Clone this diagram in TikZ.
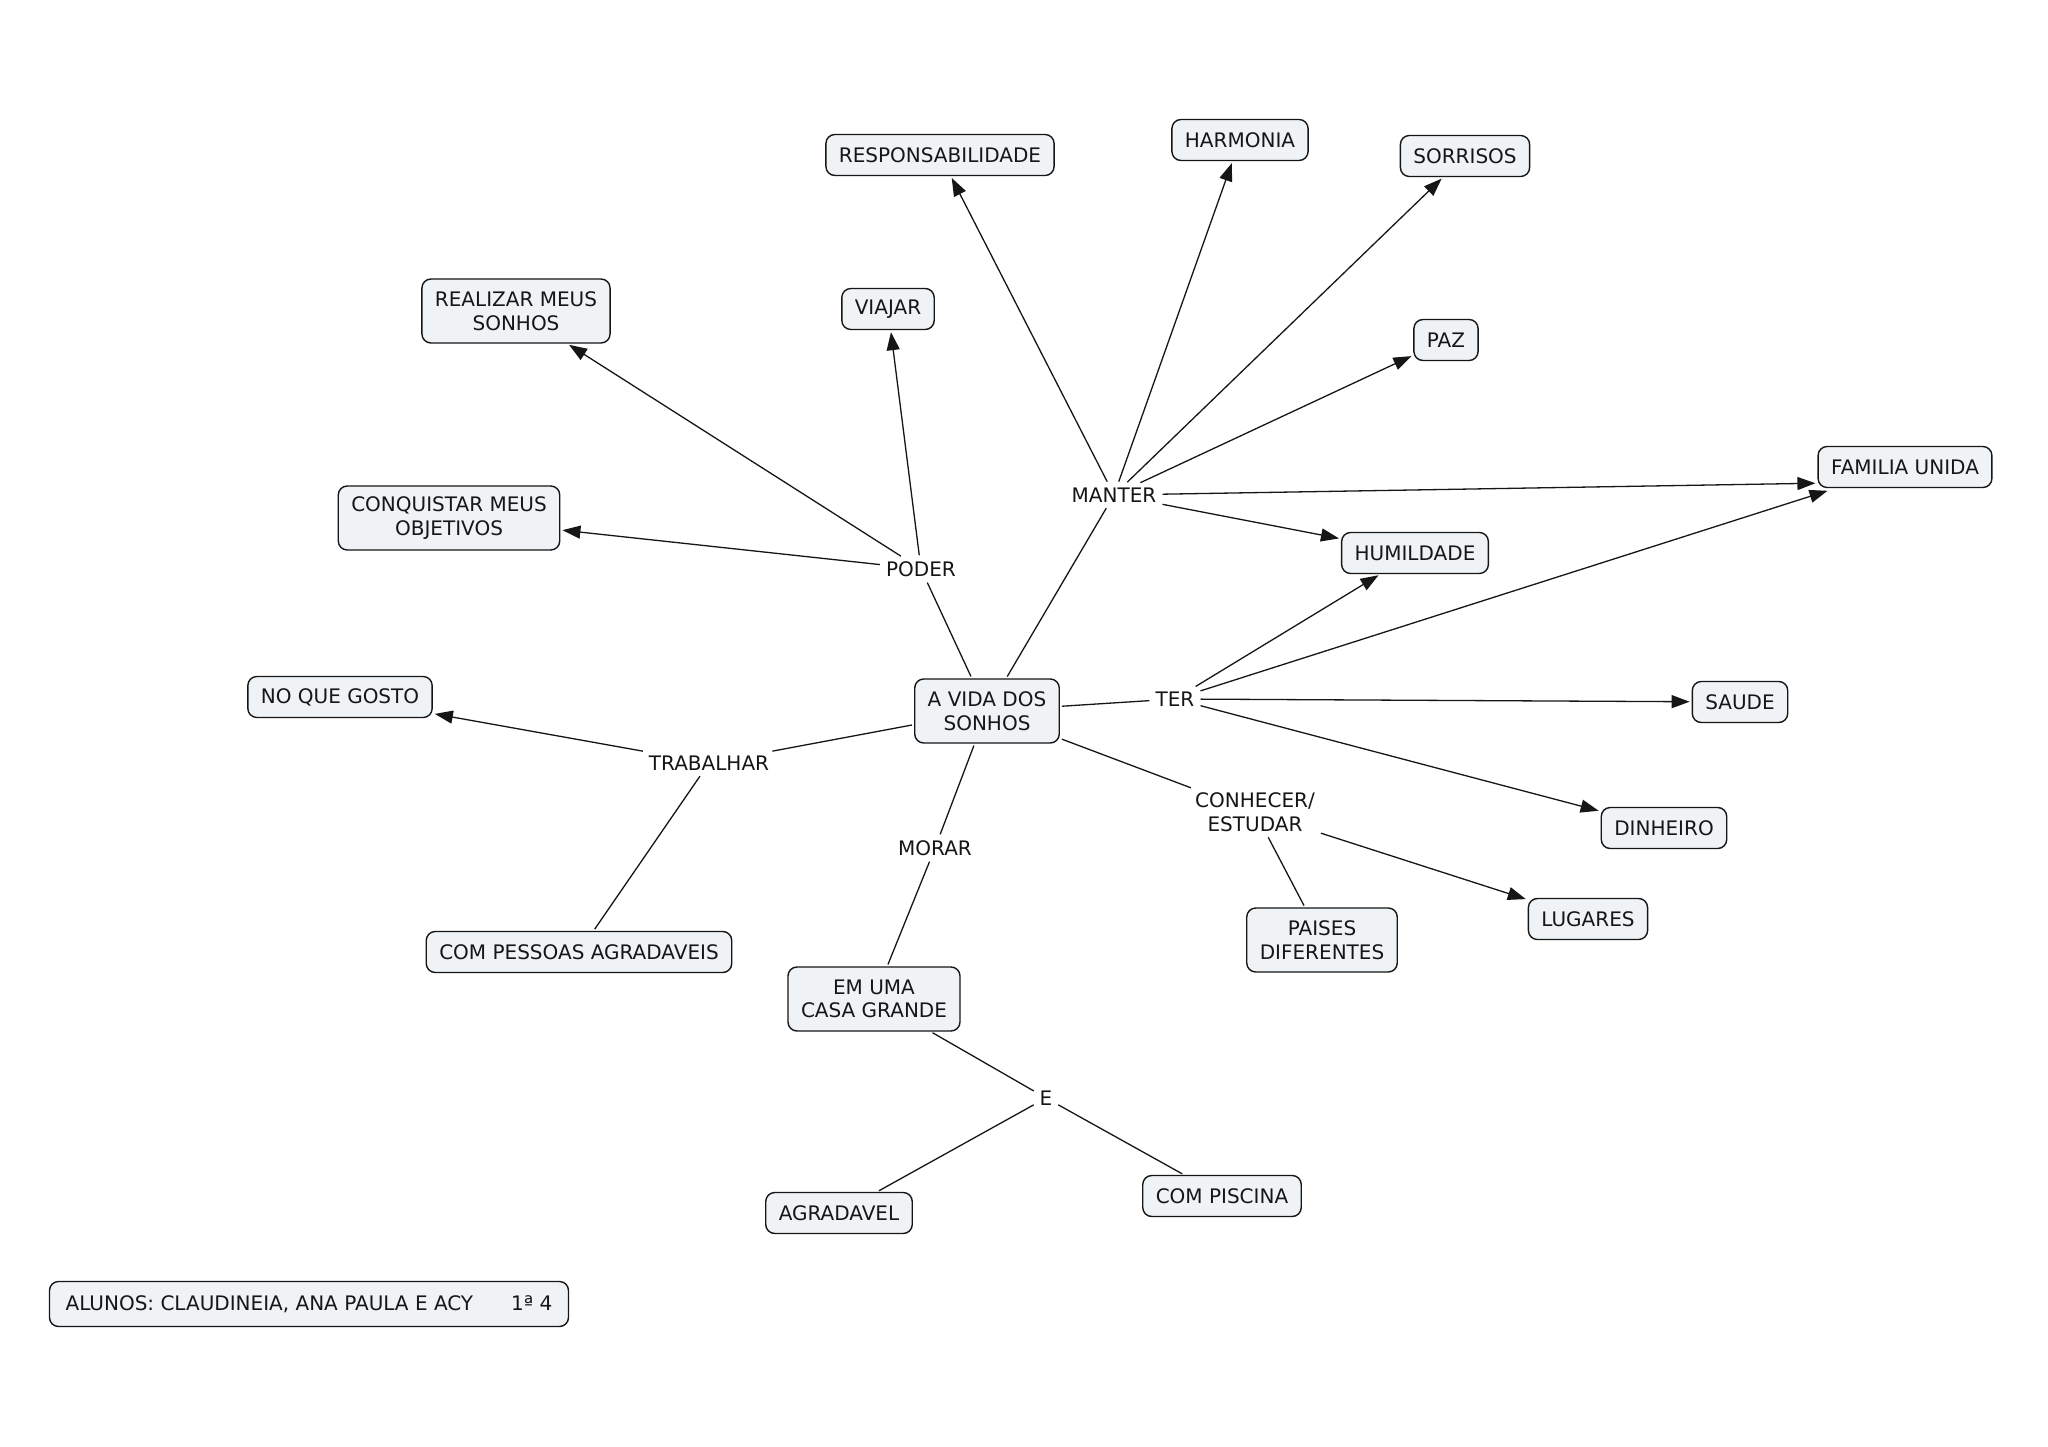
\documentclass[tikz,border=0pt]{standalone}
\usepackage{fontspec}
\setmainfont{DejaVu Sans}
\usetikzlibrary{arrows.meta}
\definecolor{boxfill}{RGB}{239,243,245}
\definecolor{ink}{RGB}{22,22,22}
\begin{document}
\begin{tikzpicture}[x=1pt,y=-1pt,
  font=\fontsize{20}{23.5}\selectfont,
  concept/.style={draw=ink, line width=1.4pt, rounded corners=9pt, fill=boxfill,
    text=ink, align=center, inner xsep=13pt, inner ysep=2pt, minimum height=41pt},
  twoline/.style={concept, minimum height=64pt},
  link/.style={inner sep=4pt, text=ink, align=center},
  conn/.style={draw=ink, line width=1.3pt, shorten <=2pt, shorten >=2pt},
  arr/.style={conn, -{Triangle[length=18pt,width=13pt]}}
]
\useasboundingbox[fill=white] (0,0) rectangle (2048,1447);

% concepts
\node[twoline] (vida) at (987,711) {A VIDA DOS\\SONHOS};
\node[concept] (resp) at (940,155) {RESPONSABILIDADE};
\node[concept] (harm) at (1240,140) {HARMONIA};
\node[concept] (sorr) at (1465,156) {SORRISOS};
\node[twoline] (real) at (516,311) {REALIZAR MEUS\\SONHOS};
\node[concept] (viaj) at (888,309) {VIAJAR};
\node[concept] (paz)  at (1446,340) {PAZ};
\node[concept] (fami) at (1905,467) {FAMILIA UNIDA};
\node[twoline] (conq) at (449,518) {CONQUISTAR MEUS\\OBJETIVOS};
\node[concept] (humi) at (1415,553) {HUMILDADE};
\node[concept] (nqg)  at (340,697) {NO QUE GOSTO};
\node[concept] (saud) at (1740,702) {SAUDE};
\node[concept] (dinh) at (1664,828) {DINHEIRO};
\node[concept] (luga) at (1588,919) {LUGARES};
\node[twoline] (pais) at (1322,940) {PAISES\\DIFERENTES};
\node[concept] (pess) at (579,952) {COM PESSOAS AGRADAVEIS};
\node[twoline] (casa) at (874,999) {EM UMA\\CASA GRANDE};
\node[concept] (agra) at (839,1213) {AGRADAVEL};
\node[concept] (pisc) at (1222,1196) {COM PISCINA};
\node[concept, minimum width=519pt, minimum height=45pt] (alun) at (309,1304)
  {ALUNOS: CLAUDINEIA, ANA PAULA E ACY\hspace{38pt}1ª 4};

% linking phrases
\node[link] (poder)  at (921,569)  {PODER};
\node[link] (manter) at (1114,495) {MANTER};
\node[link] (ter)    at (1175,699) {TER};
\node[link] (trab)   at (709,763)  {TRABALHAR};
\node[link] (morar)  at (935,848)  {MORAR};
\node[link] (conh)   at (1255,812) {CONHECER/\\ESTUDAR};
\node[link] (e)      at (1046,1098) {E};

% connectors
\draw[conn] (vida) -- (poder);
\draw[arr] (poder) -- (real);
\draw[arr] (poder) -- (viaj);
\draw[arr] (poder) -- (conq);

\draw[conn] (vida) -- (manter);
\draw[arr] (manter) -- (resp);
\draw[arr] (manter) -- (harm);
\draw[arr] (manter) -- (sorr);
\draw[arr] (manter) -- (paz);
\draw[arr] (manter) -- ([yshift=5pt]fami.south west);
\draw[arr] (manter) -- (humi);

\draw[conn] (vida) -- (ter);
\draw[arr] (ter) -- (humi);
\draw[arr] (ter) -- ([xshift=12pt,yshift=-2pt]fami.south west);
\draw[arr] (ter) -- (saud);
\draw[arr] (ter) -- (dinh);

\draw[conn] (vida) -- (trab);
\draw[arr] (trab) -- (nqg);
\draw[conn] (trab) -- (pess);

\draw[conn] (vida) -- (morar);
\draw[conn] (morar) -- (casa);

\draw[conn] (vida) -- (conh);
\draw[conn] (conh) -- (pais);
\draw[arr] (conh) -- (luga);

\draw[conn] (casa) -- (e);
\draw[conn] (e) -- (agra);
\draw[conn] (e) -- (pisc);
\end{tikzpicture}
\end{document}
